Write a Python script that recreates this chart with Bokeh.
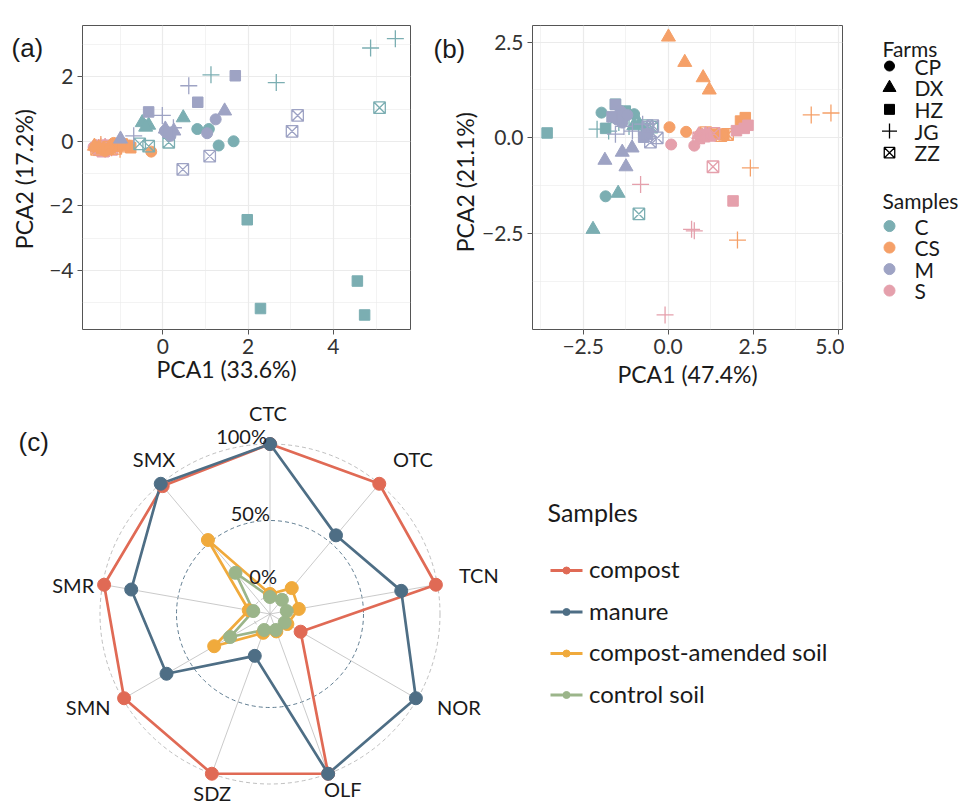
import numpy as np
from bokeh.plotting import figure
from bokeh.layouts import row, column
from bokeh.models import Range1d, FixedTicker, Title
from bokeh.core.properties import value
from bokeh.embed import file_html
from bokeh.resources import INLINE

FONT = "Lato"
TAG_FONT = "Liberation Sans"
TXT = "#1A1A1A"

# ---------------- data: PCA panels ----------------
samples = ["C", "CS", "M", "S"]
sample_colors = ["#7BAEB2", "#F5A068", "#9EA3C4", "#E5A0AC"]
farms = ["CP", "DX", "HZ", "JG", "ZZ"]

group_sample = ["C"] * 20 + ["CS"] * 20 + ["M"] * 20 + ["S"] * 20
group_farm = (["CP"] * 4 + ["DX"] * 4 + ["HZ"] * 4 + ["JG"] * 4 + ["ZZ"] * 4) * 4

a_x = [0.81, 1.08, 1.31, 1.66, 0.48, -0.48, -0.33, -0.40, 1.98, 2.29, 4.56, 4.73,
       5.45, 4.87, 1.13, 2.66, 5.08, -0.54, -0.33, 0.14,
       -0.27, -1.15, -1.05, -1.35, -1.40, -1.50, -1.30, -1.60, -0.83, -0.95, -1.10, -0.75,
       -1.20, -0.95, -1.45, -1.00, -1.25, -1.55, -1.10, -0.90,
       1.24, 1.04, 0.18, 0.05, 1.45, 0.06, 0.26, -0.99, 1.70, 0.82, -0.33, 0.12,
       0.61, -0.01, -0.68, 0.25, 3.16, 3.03, 1.10, 0.47,
       -1.62, -1.50, -1.45, -1.55, -1.50, -1.40, -1.35, -1.45, -1.40, -1.30, -1.50, -1.20,
       -1.35, -1.45, -1.25, -1.55, -1.30, -1.40, -1.20, -1.50]
a_y = [0.38, 0.38, -0.13, 0.00, 0.73, 0.58, 0.50, 0.44, -2.43, -5.18, -4.33, -5.38,
       3.18, 2.89, 2.06, 1.82, 1.04, -0.08, -0.15, -0.03,
       -0.32, -0.05, -0.10, -0.30, -0.25, -0.20, -0.28, -0.15, -0.13, -0.08, -0.15, -0.20,
       -0.20, -0.05, -0.10, -0.25, -0.18, -0.25, -0.22, -0.15,
       0.68, 0.25, 0.17, 0.32, 0.94, 0.38, 0.32, 0.07, 2.03, 1.21, 0.91, 0.28,
       1.72, 0.80, 0.17, 0.42, 0.80, 0.31, -0.46, -0.87,
       -0.18, -0.22, -0.20, -0.25, -0.18, -0.22, -0.15, -0.28, -0.20, -0.12, -0.28, -0.18,
       -0.25, -0.15, -0.22, -0.20, -0.20, -0.30, -0.25, -0.15]

b_x = [-1.96, -1.84, -1.00, -1.30, -2.21, -1.47, -1.01, -0.85, -3.56, -1.84, -1.55, -1.26,
       -2.09, -1.75, -1.15, -1.45, -0.86, -0.62, -0.70, -0.48,
       0.04, 0.53, 0.95, 1.20, 0.01, 0.49, 1.03, 1.21, 2.13, 2.27, 1.44, 1.64,
       4.21, 4.79, 2.42, 2.04, 1.75, 1.30, 1.10, 1.55,
       -1.40, -1.35, -1.20, -1.50, -1.86, -1.35, -1.06, -1.24, -1.55, -1.65, -0.72, -0.60,
       -1.55, -1.30, -1.05, -0.75, -0.52, -0.32, -0.60, -0.45,
       0.09, 0.77, 0.97, 1.15, 1.00, 1.20, 0.90, 1.10, 2.01, 2.24, 2.35, 1.91,
       -0.09, -0.81, 0.69, 0.77, 1.32, 1.05, 1.35, 0.90]
b_y = [0.66, -1.52, 0.62, 0.55, -2.38, -1.44, 0.32, 0.36, 0.13, 0.25, 0.88, 0.70,
       0.23, 0.18, 0.30, 0.40, -1.98, 0.32, 0.22, 0.28,
       0.28, 0.16, 0.10, 0.12, 2.63, 1.97, 1.57, 1.25, 0.44, 0.53, 0.10, 0.08,
       0.60, 0.65, -0.78, -2.66, 0.09, 0.12, 0.14, 0.06,
       0.70, 0.40, 0.60, 0.48, -0.58, -0.37, -0.26, -0.75, 0.87, 0.55, 0.02, 0.10,
       0.10, 0.30, 0.18, 0.36, -0.11, 0.00, 0.28, 0.32,
       -0.17, -0.20, 0.02, 0.06, 0.05, 0.02, 0.08, 0.10, 0.19, 0.25, 0.33, -1.64,
       -4.61, -1.21, -2.38, -2.42, -0.75, 0.05, 0.12, 0.00]

a_xticks = [0, 2, 4]
a_xminor = [-1, 1, 3, 5]
a_yticks = [-4, -2, 0, 2]
a_yminor = [-5, -3, -1, 1, 3]
b_xticks = [-2.5, 0.0, 2.5, 5.0]
b_xminor = [-3.75, -1.25, 1.25, 3.75]
b_yticks = [-2.5, 0.0, 2.5]
b_yminor = [-3.75, -1.25, 1.25]

# ---------------- data: radar ----------------
radar_axes = ["CTC", "OTC", "TCN", "NOR", "OLF", "SDZ", "SMN", "SMR", "SMX"]
radar_groups = ["compost", "manure", "compost-amended soil", "control soil"]
radar_colors = ["#E06A55", "#4E6E85", "#F0AA3C", "#9BB58A"]
compost = [1.00, 1.00, 0.99, 0.12, 1.00, 1.00, 0.99, 0.99, 0.98]
manure = [1.00, 0.56, 0.76, 0.99, 1.00, 0.18, 0.67, 0.81, 1.00]
amended_soil = [0.02, 0.11, 0.08, 0.02, 0.01, 0.02, 0.31, 0.03, 0.52]
control_soil = [0.00, 0.01, 0.00, 0.00, 0.00, 0.00, 0.19, 0.00, 0.24]
grid_values = [0.0, 0.5, 1.0]
grid_labels = ["0%", "50%", "100%"]

# ---------------- styles ----------------
farm_marker = {"CP": "circle", "DX": "triangle", "HZ": "square", "JG": "cross", "ZZ": "square_x"}
farm_size = {"CP": 11, "DX": 14, "HZ": 10.5, "JG": 17, "ZZ": 11.5}
farm_filled = {"CP": True, "DX": True, "HZ": True, "JG": False, "ZZ": False}
ROW_H = 390


def fmt(v, dec):
    s = f"{abs(v):.{dec}f}"
    return ("\u2212" + s) if v < 0 else s


def blank_fig(width, height):
    p = figure(width=width, height=height, x_range=Range1d(0, width), y_range=Range1d(0, height),
               output_backend="svg", toolbar_location=None, min_border=0,
               x_axis_location=None, y_axis_location=None)
    p.grid.visible = False
    p.outline_line_color = None
    return p


def strip_fig(width, tag, tag_x, tag_y, ylab, ylab_x, ylab_y):
    # left strip holding the panel tag and the rotated y-axis title (page y measured from top)
    p = blank_fig(width, ROW_H)
    p.text(x=[tag_x], y=[ROW_H - tag_y], text=[tag], text_font=value(TAG_FONT),
           text_font_size="26px", text_color=TXT, text_baseline="middle", text_align="left")
    p.text(x=[ylab_x], y=[ROW_H - ylab_y], text=[ylab], angle=np.pi / 2,
           text_font=value(FONT), text_font_size="23px", text_color=TXT,
           text_baseline="middle", text_align="center")
    return p


def pca_fig(width, left, right, xr, yr, xt, xm, yt, ym, dec, xlab, xlab_offset):
    p = figure(width=width, height=ROW_H, x_range=Range1d(*xr), y_range=Range1d(*yr),
               output_backend="svg", toolbar_location=None,
               min_border_left=left, min_border_right=right,
               min_border_top=25, min_border_bottom=57)
    p.background_fill_color = "white"
    p.border_fill_color = "white"
    p.outline_line_color = "#555555"
    p.outline_line_width = 1
    xtk = FixedTicker(ticks=xt, minor_ticks=xm)
    ytk = FixedTicker(ticks=yt, minor_ticks=ym)
    p.xaxis.ticker = xtk
    p.yaxis.ticker = ytk
    p.xgrid.ticker = xtk
    p.ygrid.ticker = ytk
    for g in (p.xgrid, p.ygrid):
        g.grid_line_color = "#EBEBEB"
        g.grid_line_width = 1.2
        g.minor_grid_line_color = "#EBEBEB"
        g.minor_grid_line_width = 0.6
    p.xaxis.major_label_overrides = {t: fmt(t, dec) for t in xt}
    p.yaxis.major_label_overrides = {t: fmt(t, dec) for t in yt}
    for ax in (p.xaxis, p.yaxis):
        ax.axis_line_color = None
        ax.major_tick_line_color = "#555555"
        ax.major_tick_out = 5
        ax.major_tick_in = 0
        ax.minor_tick_line_color = None
        ax.major_label_text_font = FONT
        ax.major_label_text_font_size = "21px"
        ax.major_label_text_color = "#333333"
        ax.major_label_standoff = 4
    if xlab_offset is None:
        p.xaxis.axis_label = xlab
        p.xaxis.axis_label_text_font = FONT
        p.xaxis.axis_label_text_font_size = "23px"
        p.xaxis.axis_label_text_font_style = "normal"
        p.xaxis.axis_label_text_color = TXT
        p.xaxis.axis_label_standoff = 3
    else:
        p.add_layout(Title(text=xlab, align="left", offset=xlab_offset, standoff=-8,
                           text_font=FONT, text_font_size="23px", text_font_style="normal",
                           text_color=TXT), "below")
    return p


def draw_points(p, xs, ys, order):
    for s in order:
        col = sample_colors[samples.index(s)]
        for f in farms:
            idx = [i for i in range(len(xs)) if group_sample[i] == s and group_farm[i] == f]
            px = [xs[i] for i in idx]
            py = [ys[i] for i in idx]
            if farm_filled[f]:
                p.scatter(px, py, marker=farm_marker[f], size=farm_size[f],
                          fill_color=col, line_color=col, line_width=1)
            else:
                p.scatter(px, py, marker=farm_marker[f], size=farm_size[f],
                          fill_color=None, line_color=col, line_width=1.3)


# panel (a): strip 0-44, figure 44-420 (frame 82-410)
sa = strip_fig(44, "(a)", 11, 29, "PCA2 (17.2%)", 23, 197)
pa = pca_fig(376, 38, 10, (-1.88, 5.805), (-5.83, 3.587), a_xticks, a_xminor, a_yticks, a_yminor,
             0, "PCA1 (33.6%)", 74)
draw_points(pa, a_x, a_y, ["S", "CS", "C", "M"])

# panel (b): strip 420-478, figure 478-844 (frame 532-842)
sb = strip_fig(58, "(b)", 13, 30, "PCA2 (21.1%)", 44, 201)
pb = pca_fig(366, 54, 2, (-3.99, 5.13), (-4.99, 2.93), b_xticks, b_xminor, b_yticks, b_yminor,
             1, "PCA1 (47.4%)", None)
draw_points(pb, b_x, b_y, ["C", "CS", "M", "S"])

# ---------------- legend for (a)/(b) ----------------
pl = figure(width=116, height=ROW_H, x_range=Range1d(0, 116), y_range=Range1d(ROW_H, 0),
            output_backend="svg", toolbar_location=None, min_border=0,
            x_axis_location=None, y_axis_location=None)
pl.grid.visible = False
pl.outline_line_color = None
TITLE_X, KEY_X, LAB_X = 38, 45, 70
farm_leg_y = [52 + 27.8 * i for i in range(len(farms))]
sample_leg_y = [257.3 + 27.6 * i for i in range(len(samples))]
pl.text(x=[TITLE_X], y=[30], text=["Farms"], text_font=value(FONT), text_font_size="21px",
        text_color=TXT, text_baseline="middle")
for f, yy in zip(farms, farm_leg_y):
    lsize = {"CP": 10, "DX": 13, "HZ": 10, "JG": 15, "ZZ": 10.5}[f]
    if farm_filled[f]:
        pl.scatter([KEY_X], [yy], marker=farm_marker[f], size=lsize, fill_color="black",
                   line_color="black")
    else:
        pl.scatter([KEY_X], [yy], marker=farm_marker[f], size=lsize, fill_color=None,
                   line_color="black", line_width=1.3)
pl.text(x=[LAB_X] * len(farms), y=farm_leg_y, text=farms, text_font=value(FONT),
        text_font_size="21px", text_color=TXT, text_baseline="middle")
pl.text(x=[TITLE_X], y=[224], text=["Samples"], text_font=value(FONT), text_font_size="21px",
        text_color=TXT, text_baseline="middle")
pl.scatter([KEY_X] * len(samples), sample_leg_y, marker="circle", size=11,
           fill_color=sample_colors, line_color=sample_colors)
pl.text(x=[LAB_X] * len(samples), y=sample_leg_y, text=samples, text_font=value(FONT),
        text_font_size="21px", text_color=TXT, text_baseline="middle")

# ---------------- radar (c) ----------------
CX, CY_TOP = 269.5, 223.5
pc = figure(width=960, height=415, x_range=Range1d(-CX, 960 - CX),
            y_range=Range1d(-(415 - CY_TOP), CY_TOP),
            output_backend="svg", toolbar_location=None, min_border=0,
            x_axis_location=None, y_axis_location=None)
pc.grid.visible = False
pc.outline_line_color = None

R_MAX, R0 = 170.0, 17.0


def rad(v):
    return R0 + (R_MAX - R0) * np.asarray(v, dtype=float)


ang = np.deg2rad(90 - 360.0 / len(radar_axes) * np.arange(len(radar_axes)))

# grid circles
pc.circle(x=[0], y=[0], radius=[rad(grid_values[0])], fill_color=None, line_color="#B8B8B8",
          line_width=0.8, line_dash="4 3")
pc.circle(x=[0], y=[0], radius=[rad(grid_values[1])], fill_color=None, line_color="#4E6E85",
          line_width=0.9, line_dash="4 3")
pc.circle(x=[0], y=[0], radius=[rad(grid_values[2])], fill_color=None, line_color="#B8B8B8",
          line_width=0.9, line_dash="4 3")
# spokes
pc.segment(x0=np.zeros(len(ang)), y0=np.zeros(len(ang)), x1=R_MAX * np.cos(ang),
           y1=R_MAX * np.sin(ang), line_color="#BDBDBD", line_width=0.8)

series = [compost, manure, amended_soil, control_soil]
for vals, col in zip(series, radar_colors):
    r = rad(vals)
    xs = list(r * np.cos(ang)) + [r[0] * np.cos(ang[0])]
    ys = list(r * np.sin(ang)) + [r[0] * np.sin(ang[0])]
    pc.line(xs, ys, line_color=col, line_width=2.7)
for vals, col in zip(series, radar_colors):
    r = rad(vals)
    pc.scatter(r * np.cos(ang), r * np.sin(ang), marker="circle", size=13,
               fill_color=col, line_color=col)

# axis labels
label_nudge_x = [-2, 8, 2, 7, 1, 14, 0, 10, 19]
label_nudge_y = [0, 0, 0, 0, 4, 0, 0, -10, 0]
lx = 210 * np.cos(ang) + np.array(label_nudge_x)
ly = 196 * np.sin(ang) + 5 + np.array(label_nudge_y)
pc.text(x=lx, y=ly, text=radar_axes, text_font=value(FONT), text_font_size="20px",
        text_color=TXT, text_align="center", text_baseline="middle")

# grid labels
grid_label_dx = [7, 0, -3]
grid_label_dy = [21, 8, 8]
pc.text(x=grid_label_dx, y=list(rad(grid_values) + np.array(grid_label_dy)), text=grid_labels,
        text_font=value(FONT), text_font_size="20px", text_color=TXT,
        text_align="right", text_baseline="middle")

# tag
pc.text(x=[18 - CX], y=[CY_TOP - (441.7 - 390)], text=["(c)"], text_font=value(TAG_FONT),
        text_font_size="26px", text_color=TXT, text_baseline="middle")

# legend (c)
LX0, LX1, LTX = 550 - CX, 582 - CX, 588.5 - CX
leg_y = [CY_TOP - (570 - 390) - 41.5 * i for i in range(len(radar_groups))]
pc.text(x=[547 - CX], y=[CY_TOP - (511.7 - 390)], text=["Samples"], text_font=value(FONT),
        text_font_size="25px", text_color=TXT, text_baseline="middle")
pc.segment(x0=[LX0] * 4, y0=leg_y, x1=[LX1] * 4, y1=leg_y, line_color=radar_colors, line_width=3)
pc.scatter([(LX0 + LX1) / 2] * 4, leg_y, marker="circle", size=7, fill_color=radar_colors,
           line_color=radar_colors)
pc.text(x=[LTX] * 4, y=[v + 2 for v in leg_y], text=radar_groups, text_font=value(FONT),
        text_font_size="24px", text_color=TXT, text_baseline="middle")

layout = column(row(sa, pa, sb, pb, pl), pc)
open("out.html", "w").write(file_html(layout, INLINE))
